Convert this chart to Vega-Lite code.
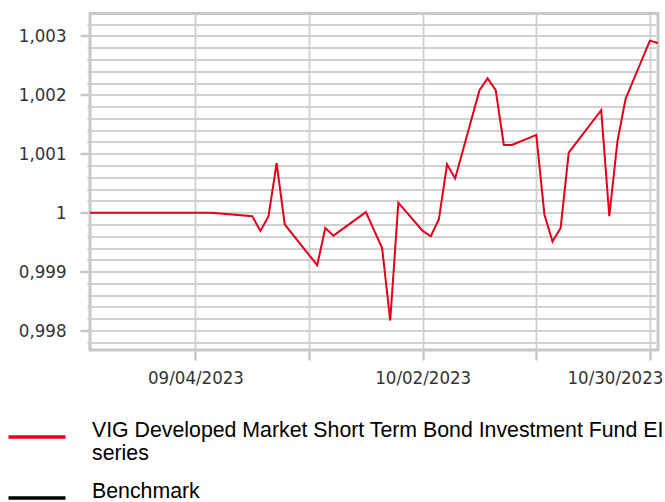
{
  "$schema": "https://vega.github.io/schema/vega-lite/v6.json",
  "width": 568,
  "height": 336.5,
  "autosize": "none",
  "padding": {"left": 90, "top": 13.5, "right": 7, "bottom": 152},
  "background": "white",
  "data": {
    "values": [
      {"date": "2023-08-22", "value": 1.0, "series": "VIG Developed Market Short Term Bond Investment Fund EI series"},
      {"date": "2023-09-06", "value": 1.0, "series": "VIG Developed Market Short Term Bond Investment Fund EI series"},
      {"date": "2023-09-11", "value": 0.99994, "series": "VIG Developed Market Short Term Bond Investment Fund EI series"},
      {"date": "2023-09-12", "value": 0.99969, "series": "VIG Developed Market Short Term Bond Investment Fund EI series"},
      {"date": "2023-09-13", "value": 0.99994, "series": "VIG Developed Market Short Term Bond Investment Fund EI series"},
      {"date": "2023-09-14", "value": 1.00084, "series": "VIG Developed Market Short Term Bond Investment Fund EI series"},
      {"date": "2023-09-15", "value": 0.9998, "series": "VIG Developed Market Short Term Bond Investment Fund EI series"},
      {"date": "2023-09-19", "value": 0.99911, "series": "VIG Developed Market Short Term Bond Investment Fund EI series"},
      {"date": "2023-09-20", "value": 0.99974, "series": "VIG Developed Market Short Term Bond Investment Fund EI series"},
      {"date": "2023-09-21", "value": 0.99961, "series": "VIG Developed Market Short Term Bond Investment Fund EI series"},
      {"date": "2023-09-25", "value": 1.00001, "series": "VIG Developed Market Short Term Bond Investment Fund EI series"},
      {"date": "2023-09-27", "value": 0.9994, "series": "VIG Developed Market Short Term Bond Investment Fund EI series"},
      {"date": "2023-09-28", "value": 0.99817, "series": "VIG Developed Market Short Term Bond Investment Fund EI series"},
      {"date": "2023-09-29", "value": 1.00017, "series": "VIG Developed Market Short Term Bond Investment Fund EI series"},
      {"date": "2023-10-02", "value": 0.99969, "series": "VIG Developed Market Short Term Bond Investment Fund EI series"},
      {"date": "2023-10-03", "value": 0.9996, "series": "VIG Developed Market Short Term Bond Investment Fund EI series"},
      {"date": "2023-10-04", "value": 0.99989, "series": "VIG Developed Market Short Term Bond Investment Fund EI series"},
      {"date": "2023-10-05", "value": 1.00082, "series": "VIG Developed Market Short Term Bond Investment Fund EI series"},
      {"date": "2023-10-06", "value": 1.00058, "series": "VIG Developed Market Short Term Bond Investment Fund EI series"},
      {"date": "2023-10-09", "value": 1.00208, "series": "VIG Developed Market Short Term Bond Investment Fund EI series"},
      {"date": "2023-10-10", "value": 1.00228, "series": "VIG Developed Market Short Term Bond Investment Fund EI series"},
      {"date": "2023-10-11", "value": 1.00208, "series": "VIG Developed Market Short Term Bond Investment Fund EI series"},
      {"date": "2023-10-12", "value": 1.00115, "series": "VIG Developed Market Short Term Bond Investment Fund EI series"},
      {"date": "2023-10-13", "value": 1.00115, "series": "VIG Developed Market Short Term Bond Investment Fund EI series"},
      {"date": "2023-10-16", "value": 1.00132, "series": "VIG Developed Market Short Term Bond Investment Fund EI series"},
      {"date": "2023-10-17", "value": 0.99997, "series": "VIG Developed Market Short Term Bond Investment Fund EI series"},
      {"date": "2023-10-18", "value": 0.99951, "series": "VIG Developed Market Short Term Bond Investment Fund EI series"},
      {"date": "2023-10-19", "value": 0.99974, "series": "VIG Developed Market Short Term Bond Investment Fund EI series"},
      {"date": "2023-10-20", "value": 1.00102, "series": "VIG Developed Market Short Term Bond Investment Fund EI series"},
      {"date": "2023-10-24", "value": 1.00174, "series": "VIG Developed Market Short Term Bond Investment Fund EI series"},
      {"date": "2023-10-25", "value": 0.99994, "series": "VIG Developed Market Short Term Bond Investment Fund EI series"},
      {"date": "2023-10-26", "value": 1.00121, "series": "VIG Developed Market Short Term Bond Investment Fund EI series"},
      {"date": "2023-10-27", "value": 1.00193, "series": "VIG Developed Market Short Term Bond Investment Fund EI series"},
      {"date": "2023-10-30", "value": 1.00292, "series": "VIG Developed Market Short Term Bond Investment Fund EI series"},
      {"date": "2023-10-31", "value": 1.00288, "series": "VIG Developed Market Short Term Bond Investment Fund EI series"}
    ]
  },
  "mark": {"type": "line", "strokeWidth": 2, "clip": true},
  "encoding": {
    "x": {
      "field": "date",
      "type": "temporal",
      "scale": {"type": "utc", "domain": [{"year": 2023, "month": 8, "date": 22, "utc": true}, {"year": 2023, "month": 10, "date": 31, "utc": true}]},
      "axis": {
        "title": null,
        "domain": false,
        "values": [
          {"year": 2023, "month": 9, "date": 4, "utc": true},
          {"year": 2023, "month": 9, "date": 18, "utc": true},
          {"year": 2023, "month": 10, "date": 2, "utc": true},
          {"year": 2023, "month": 10, "date": 16, "utc": true},
          {"year": 2023, "month": 10, "date": 30, "utc": true}
        ],
        "labelExpr": "indexof(['09/04/2023','10/02/2023','10/30/2023'], utcFormat(datum.value,'%m/%d/%Y')) >= 0 ? utcFormat(datum.value,'%m/%d/%Y') : ''",
        "tickSize": 10,
        "tickWidth": 2.5,
        "tickColor": "#c8c8c8",
        "labelPadding": 8,
        "labelFont": "DejaVu Sans Condensed, DejaVu Sans",
        "labelFontSize": 18.5,
        "labelColor": "#333333",
        "labelAlign": {"condition": {"test": "utcdate(datum.value) == 30", "value": "right"}, "value": "center"},
        "labelOffset": {"condition": {"test": "utcdate(datum.value) == 30", "value": 13}, "value": 0},
        "labelOverlap": false,
        "labelFlush": false,
        "labelBound": false,
        "grid": true,
        "gridColor": "#d0d0d0",
        "gridWidth": 1.8
      }
    },
    "y": {
      "field": "value",
      "type": "quantitative",
      "scale": {"domain": [0.99767, 1.00338], "zero": false, "nice": false},
      "axis": {
        "title": null,
        "domain": false,
        "values": [0.9978, 0.998, 0.9982, 0.9984, 0.9986, 0.9988, 0.999, 0.9992, 0.9994, 0.9996, 0.9998, 1.0, 1.0002, 1.0004, 1.0006, 1.0008, 1.001, 1.0012, 1.0014, 1.0016, 1.0018, 1.002, 1.0022, 1.0024, 1.0026, 1.0028, 1.003, 1.0032],
        "labelExpr": "abs(datum.value*1000 - round(datum.value*1000)) < 0.01 ? replace(format(datum.value, '.3~f'), '.', ',') : ''",
        "tickSize": {"condition": {"test": "abs(datum.value*1000 - round(datum.value*1000)) < 0.01", "value": 10}, "value": 3},
        "tickWidth": 2.5,
        "tickColor": "#c8c8c8",
        "labelPadding": 14,
        "labelFont": "DejaVu Sans Condensed, DejaVu Sans",
        "labelFontSize": 18.5,
        "labelColor": "#333333",
        "labelOverlap": false,
        "labelFlush": false,
        "grid": true,
        "gridColor": "#d0d0d0",
        "gridWidth": 1.8
      }
    },
    "color": {
      "field": "series",
      "type": "nominal",
      "scale": {
        "domain": ["VIG Developed Market Short Term Bond Investment Fund EI series", "Benchmark"],
        "range": ["#e2001a", "#000000"]
      },
      "legend": {
        "title": null,
        "orient": "none",
        "legendX": -83.5,
        "legendY": 393,
        "direction": "vertical",
        "symbolType": "stroke",
        "symbolSize": 3249,
        "symbolStrokeWidth": 3.5,
        "labelFont": "Liberation Sans",
        "labelFontSize": 21.3,
        "labelColor": "#000000",
        "labelLimit": 0,
        "labelOffset": 24.5,
        "labelLineHeight": 23,
        "labelBaseline": "alphabetic",
        "rowPadding": 2,
        "padding": 0,
        "labelExpr": "datum.label == 'Benchmark' ? 'Benchmark' : ['VIG Developed Market Short Term Bond Investment Fund EI', 'series']"
      }
    }
  },
  "config": {
    "view": {"stroke": "#c8c8c8", "strokeWidth": 3}
  }
}
